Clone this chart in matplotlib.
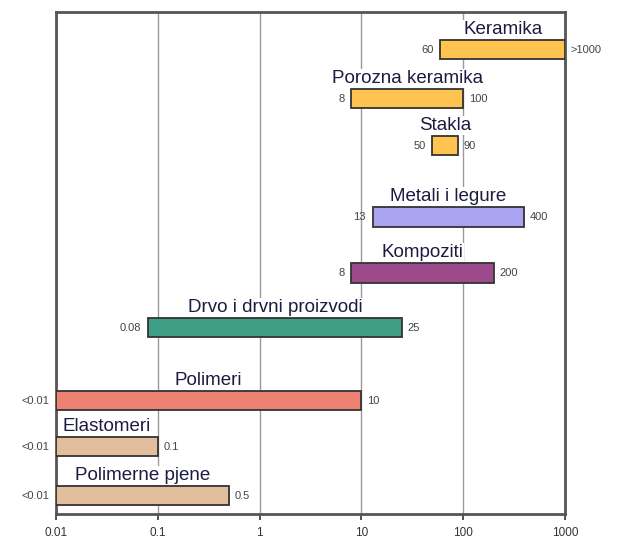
import numpy as np
import matplotlib.pyplot as plt

plt.rcParams['font.family'] = ['Liberation Sans', 'DejaVu Sans']

# materijali i raspon vrijednosti (log skala)
materijali = ['Keramika', 'Porozna keramika', 'Stakla', 'Metali i legure', 'Kompoziti',
              'Drvo i drvni proizvodi', 'Polimeri', 'Elastomeri', 'Polimerne pjene']
donja = [60, 8, 50, 13, 8, 0.08, 0.01, 0.01, 0.01]
gornja = [1000, 100, 90, 400, 200, 25, 10, 0.1, 0.5]
donja_txt = ['60', '8', '50', '13', '8', '0.08', '<0.01', '<0.01', '<0.01']
gornja_txt = ['>1000', '100', '90', '400', '200', '25', '10', '0.1', '0.5']
boje = ['#fec44f', '#fec44f', '#fec44f', '#aaa3f0', '#9c4a8c', '#3f9f86',
        '#ee8272', '#e2be9c', '#e2be9c']

# raspored redova (nejednaki razmaci izmedju grupa)
ypos = [0, 1.02, 2.0, 3.48, 4.65, 5.79, 7.31, 8.27, 9.29]
h = 0.4

fig = plt.figure(figsize=(6.19, 5.46), dpi=100)
ax = fig.add_axes([0.0905, 0.0586, 0.822, 0.9195])
ax.set_xscale('log')
ax.set_xlim(0.01, 1000)
ax.set_ylim(9.67, -0.79)

for g in [0.1, 1, 10, 100]:
    ax.axvline(g, color='#9a9a9a', lw=1, zorder=0)

for i in range(len(materijali)):
    lo, hi = donja[i], gornja[i]
    y = ypos[i]
    ax.barh(y, hi - lo, left=lo, height=h, color=boje[i], edgecolor='#333333',
            lw=1.3, zorder=3)
    sred = np.sqrt(lo * hi)
    ax.text(sred, y - h / 2 - 0.05, materijali[i], ha='center', va='bottom',
            fontsize=13.5, color='#1c1c40', zorder=2,
            bbox=dict(facecolor='white', edgecolor='none', pad=0.5))
    ax.annotate(donja_txt[i], (lo, y), xytext=(-5, 0), textcoords='offset points',
                ha='right', va='center', fontsize=8, color='#444444',
                annotation_clip=False)
    ax.annotate(gornja_txt[i], (hi, y), xytext=(4, 0), textcoords='offset points',
                ha='left', va='center', fontsize=8, color='#444444',
                annotation_clip=False)

ax.set_xticks([0.01, 0.1, 1, 10, 100, 1000])
ax.set_xticklabels(['0.01', '0.1', '1', '10', '100', '1000'], fontsize=8.5, color='#333333')
ax.minorticks_off()
ax.set_yticks([])
ax.tick_params(axis='x', direction='out', length=4, width=1.2, color='#333333', pad=5)
for s in ax.spines.values():
    s.set_color('#555555')
    s.set_linewidth(2)

fig.savefig('out.png', dpi=100)
